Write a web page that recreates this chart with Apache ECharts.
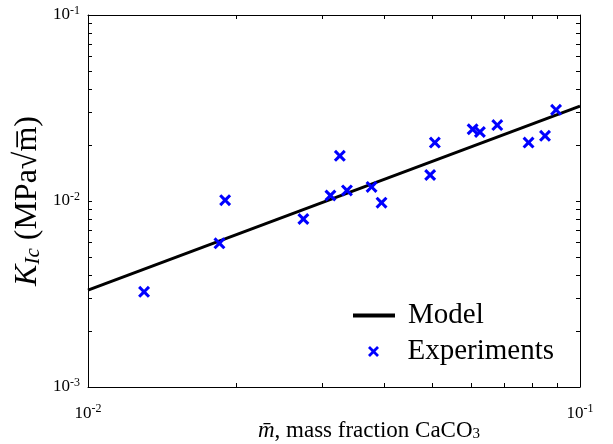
<!DOCTYPE html>
<html><head><meta charset="utf-8">
<script src="https://cdn.jsdelivr.net/npm/echarts@6/dist/echarts.min.js"></script>
<style>html,body{margin:0;padding:0;background:#fff}#c{width:613px;height:444px}</style>
</head><body><div id="c"></div>
<script>
// Experimental data (mass fraction CaCO3, fracture toughness MPa√m)
const massFraction = [0.0130, 0.0185, 0.0190, 0.0274, 0.0311, 0.0325, 0.0336, 0.0377, 0.0395, 0.0496, 0.0507, 0.0605, 0.0626, 0.0679, 0.0786, 0.0849, 0.0894];
const toughness    = [0.00325, 0.00592, 0.0101, 0.0080, 0.0107, 0.0175, 0.0114, 0.0119, 0.0098, 0.0138, 0.0206, 0.0243, 0.0235, 0.0256, 0.0206, 0.0224, 0.0309];
// Model line
const modelX = [0.01, 0.1];
const modelY = [0.00332, 0.0324];
// Ticks and labels
const xTickValues = [0.01, 0.02, 0.03, 0.04, 0.05, 0.06, 0.07, 0.08, 0.09, 0.1];
const yTickValues = [0.001, 0.002, 0.003, 0.004, 0.005, 0.006, 0.007, 0.008, 0.009, 0.01, 0.02, 0.03, 0.04, 0.05, 0.06, 0.07, 0.08, 0.09, 0.1];
const xLabelValues = [0.01, 0.1];
const yLabelValues = [0.001, 0.01, 0.1];
const seriesNames = ['Model', 'Experiments'];

const serif = '"Liberation Serif", "DejaVu Serif", serif';
const xMark = 'path://M0,18L18,0L50,32L82,0L100,18L68,50L100,82L82,100L50,68L18,100L0,82L32,50Z';

function expLabel(v) {
  const e = Math.round(Math.log10(v));
  return '{b|10}{s|' + e + '}';
}
const labelRich = {
  b: { fontFamily: serif, fontSize: 17, color: '#000' },
  s: { fontFamily: serif, fontSize: 12, color: '#000', padding: [0, 0, 9, 0] }
};

const chart = echarts.init(document.getElementById('c'), null, { renderer: 'canvas' });
const axisLine = { show: true, onZero: false, lineStyle: { color: '#000', width: 1 } };
const tickStyle = { show: true, inside: true, length: 4, lineStyle: { color: '#000', width: 1 } };
const legendText = { fontFamily: serif, fontSize: 29, color: '#000', padding: [0, 0, 0, 8] };

chart.setOption({
  backgroundColor: '#fff',
  animation: false,
  grid: { left: 88, right: 33, top: 15, bottom: 57, containLabel: false, outerBoundsMode: 'none' },
  legend: [{
    left: 353, top: 301, padding: 0,
    itemWidth: 42, itemHeight: 4, icon: 'rect',
    data: [seriesNames[0]],
    textStyle: legendText
  }, {
    left: 368, top: 337, padding: 0,
    itemWidth: 42, itemHeight: 11,
    data: [seriesNames[1]],
    textStyle: legendText
  }],
  xAxis: [{
    type: 'log', min: 0.01, max: 0.1, logBase: 10,
    name: '{i|m̄}, mass fraction CaCO{sub|3}',
    nameLocation: 'middle', nameGap: 32, nameMoveOverlap: false,
    nameTextStyle: {
      fontFamily: serif, fontSize: 23, color: '#000', padding: [0, 0, 0, 70],
      rich: {
        i: { fontFamily: serif, fontSize: 23, fontStyle: 'italic', color: '#000' },
        sub: { fontFamily: serif, fontSize: 15, color: '#000', padding: [8, 0, 0, 0] }
      }
    },
    axisLine: axisLine,
    axisTick: Object.assign({}, tickStyle, { customValues: xTickValues }),
    axisLabel: { customValues: xLabelValues, margin: 16, formatter: expLabel, rich: labelRich },
    splitLine: { show: false }, minorTick: { show: false }
  }, {
    type: 'log', min: 0.01, max: 0.1, position: 'top',
    axisLine: axisLine,
    axisTick: Object.assign({}, tickStyle, { customValues: xTickValues }),
    axisLabel: { show: false }, splitLine: { show: false }
  }],
  yAxis: [{
    type: 'log', min: 0.001, max: 0.1, logBase: 10,
    name: '{k|K}{sub|Ic} (MPa√m̅)',
    nameLocation: 'middle', nameGap: 44, nameMoveOverlap: false,
    nameTextStyle: {
      fontFamily: serif, fontSize: 32, color: '#000',
      rich: {
        k: { fontFamily: serif, fontSize: 32, fontStyle: 'italic', color: '#000' },
        sub: { fontFamily: serif, fontSize: 21, fontStyle: 'italic', color: '#000', padding: [11, 0, 0, 0] }
      }
    },
    axisLine: axisLine,
    axisTick: Object.assign({}, tickStyle, { customValues: yTickValues }),
    axisLabel: { customValues: yLabelValues, margin: 8, formatter: expLabel, rich: labelRich },
    splitLine: { show: false }, minorTick: { show: false }
  }, {
    type: 'log', min: 0.001, max: 0.1, position: 'right',
    axisLine: axisLine,
    axisTick: Object.assign({}, tickStyle, { customValues: yTickValues }),
    axisLabel: { show: false }, splitLine: { show: false }
  }],
  series: [{
    name: seriesNames[0], type: 'line', symbol: 'none',
    xAxisIndex: 0, yAxisIndex: 0,
    lineStyle: { color: '#000', width: 3 },
    itemStyle: { color: '#000' },
    data: modelX.map((x, i) => [x, modelY[i]]),
    z: 2
  }, {
    name: seriesNames[1], type: 'scatter',
    xAxisIndex: 0, yAxisIndex: 0,
    symbol: xMark, symbolSize: 12, symbolKeepAspect: true,
    itemStyle: { color: '#0000ff', opacity: 1 },
    data: massFraction.map((x, i) => [x, toughness[i]]),
    z: 3
  }]
});
</script>
</body></html>
